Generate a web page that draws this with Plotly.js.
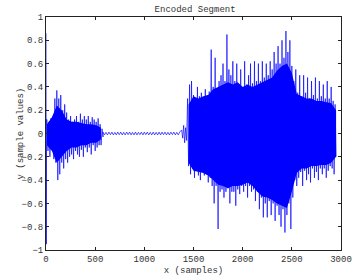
<!DOCTYPE html>
<html><head><meta charset="utf-8">
<script src="https://cdn.plot.ly/plotly-3.0.1.min.js"></script>
<style>html,body{margin:0;padding:0;background:#fff}#chart{width:358px;height:280px}</style>
</head><body><div id="chart"></div>
<script>
// Onset spike at the very start
const onsetX = [0, 3, 6];
const onsetY = [0.86, -0.95, 0.12];

// Segment 1: decaying burst, x = 10..570, step 10 (upper / lower peaks every 20)
const seg1Start = 10;
const seg1Up = [0.12,0.10,0.13,0.08,0.30, 0.37,0.30,0.33,0.20,0.25, 0.18,0.12,0.15,0.10,0.12,
                0.15,0.10,0.17,0.12,0.15, 0.12,0.15,0.10,0.14,0.12, 0.10,0.13,0.08,0.04];
const seg1Lo = [-0.15,-0.20,-0.10,-0.22,-0.25, -0.40,-0.35,-0.25,-0.30,-0.22, -0.25,-0.20,-0.18,-0.22,-0.15,
                -0.18,-0.20,-0.14,-0.20,-0.12, -0.16,-0.12,-0.18,-0.10,-0.15, -0.12,-0.10,-0.10,-0.03];

// Segment 1 dense core (bulk envelope), every 50 samples from 10
const core1Start = 10;
const core1Up = [0.08,0.14,0.24,0.20,0.12,0.10,0.10,0.09,0.08,0.08,0.07,0.05];
const core1Lo = [-0.10,-0.15,-0.25,-0.20,-0.15,-0.12,-0.12,-0.10,-0.10,-0.08,-0.08,-0.05];

// Segment 2: quiet ripple, x = 580..1370, step 15
const seg2Start = 580;
const seg2Y = [0.012,-0.012,0.01,-0.012,0.012,-0.01,0.012,-0.012,0.01,-0.012,
               0.012,-0.01,0.012,-0.012,0.01,-0.012,0.012,-0.01,0.012,-0.012,
               0.01,-0.012,0.012,-0.012,0.01,-0.01,0.012,-0.012,0.012,-0.01,
               0.012,-0.012,0.01,-0.012,0.012,-0.012,0.01,-0.012,0.012,-0.012,
               0.012,-0.01,0.012,-0.012,0.01,-0.012,0.012,-0.01,0.012,-0.012,
               0.01,-0.012,0.012];

// Segment 3: loud section, x = 1380..2950, step 10 (upper / lower peaks every 20)
const seg3Start = 1380;
const seg3Up = [0.03,0.07,0.05,
  0.30,0.42,0.45,
  0.33,0.30,0.40,0.32,0.35,
  0.30,0.38,0.33,0.36,0.72,
  0.40,0.65,0.38,0.45,0.50,
  0.60,0.45,0.85,0.55,0.50,
  0.62,0.45,0.60,0.42,0.55,
  0.40,0.62,0.42,0.50,0.60,
  0.43,0.62,0.45,0.60,0.45,
  0.62,0.48,0.60,0.50,0.62,
  0.55,0.70,0.60,0.75,0.60,
  0.80,0.65,0.88,0.70,0.80,
  0.58,0.45,0.55,0.35,0.50,
  0.32,0.50,0.35,0.48,0.30,
  0.45,0.33,0.48,0.30,0.45,
  0.32,0.42,0.30,0.45,0.30,
  0.40,0.28,0.25];
const seg3Lo = [-0.04,-0.08,-0.06,
  -0.28,-0.35,-0.30,
  -0.38,-0.32,-0.36,-0.40,-0.33,
  -0.36,-0.35,-0.42,-0.38,-0.45,
  -0.60,-0.45,-0.82,-0.50,-0.48,
  -0.55,-0.50,-0.47,-0.60,-0.50,
  -0.50,-0.62,-0.48,-0.52,-0.45,
  -0.50,-0.45,-0.55,-0.45,-0.50,
  -0.48,-0.58,-0.50,-0.65,-0.55,
  -0.72,-0.60,-0.72,-0.58,-0.70,
  -0.60,-0.75,-0.62,-0.70,-0.80,
  -0.65,-0.85,-0.70,-0.60,-0.82,
  -0.55,-0.40,-0.45,-0.38,-0.33,
  -0.45,-0.32,-0.40,-0.35,-0.42,
  -0.30,-0.38,-0.33,-0.40,-0.30,
  -0.35,-0.30,-0.38,-0.32,-0.28,
  -0.30,-0.35,-0.20];

// Segment 3 dense core (bulk envelope), every 50 samples from 1450
const core3Start = 1450;
const core3Up = [0.25,0.32,0.30,0.32,0.33,0.38,0.40,0.42,0.44,0.42,0.44,0.40,0.42,0.40,0.42,0.44,
                 0.46,0.48,0.54,0.58,0.60,0.52,0.34,0.32,0.30,0.30,0.28,0.28,0.27,0.26,0.20];
const core3Lo = [-0.25,-0.32,-0.33,-0.34,-0.36,-0.40,-0.44,-0.45,-0.47,-0.45,-0.45,-0.44,-0.42,-0.45,-0.50,-0.54,
                 -0.55,-0.57,-0.60,-0.62,-0.64,-0.50,-0.34,-0.30,-0.30,-0.28,-0.28,-0.27,-0.27,-0.25,-0.20];

const xTicks = [0,500,1000,1500,2000,2500,3000];
const yTicks = [-1,-0.8,-0.6,-0.4,-0.2,0,0.2,0.4,0.6,0.8,1];

const xs = [], ys = [];
onsetX.forEach((v,i)=>{xs.push(v); ys.push(onsetY[i]);});
seg1Up.forEach((v,i)=>{xs.push(seg1Start+20*i); ys.push(v); xs.push(seg1Start+20*i+10); ys.push(seg1Lo[i]);});
seg2Y.forEach((v,i)=>{xs.push(seg2Start+15*i); ys.push(v);});
seg3Up.forEach((v,i)=>{xs.push(seg3Start+20*i); ys.push(v); xs.push(seg3Start+20*i+10); ys.push(seg3Lo[i]);});

function coreShape(start, up, lo){
  const cx = [], cy = [];
  up.forEach((v,i)=>{cx.push(start+50*i); cy.push(v);});
  for(let i=lo.length-1;i>=0;i--){cx.push(start+50*i); cy.push(lo[i]);}
  return {x:cx, y:cy, type:'scatter', mode:'lines', fill:'toself', fillcolor:'#0000ff',
          line:{width:0, color:'#0000ff'}, hoverinfo:'skip'};
}

const font = {family:'"Liberation Mono", "DejaVu Sans Mono", monospace', size:9, color:'#333'};
const axisCommon = {
  showgrid:false, zeroline:false, showline:true, linecolor:'#222', linewidth:1,
  mirror:'ticks', ticks:'inside', ticklen:3, tickcolor:'#222', tickfont:font
};

Plotly.newPlot('chart', [
  coreShape(core1Start, core1Up, core1Lo),
  coreShape(core3Start, core3Up, core3Lo),
  {x: xs, y: ys, type:'scatter', mode:'lines', line:{color:'rgba(0,0,255,0.85)', width:0.8}, hoverinfo:'skip'}
], {
  width:358, height:280,
  margin:{l:46, r:17, t:17, b:30},
  paper_bgcolor:'#fff', plot_bgcolor:'#fff',
  showlegend:false,
  title:{text:'Encoded Segment', font:font, x:0.545, xanchor:'center', y:0.97, yanchor:'middle'},
  xaxis: Object.assign({}, axisCommon, {range:[0,3000], tickvals:xTicks, ticktext:xTicks.map(String),
     title:{text:'x (samples)', font:font, standoff:2}}),
  yaxis: Object.assign({}, axisCommon, {range:[-1,1], tickvals:yTicks}),
  annotations:[{text:'y (sample values)', font:font, textangle:-90, showarrow:false,
     xref:'paper', yref:'paper', x:-0.088, y:0.5, xanchor:'center', yanchor:'middle'}]
}, {staticPlot:true, displayModeBar:false});
</script></body></html>
